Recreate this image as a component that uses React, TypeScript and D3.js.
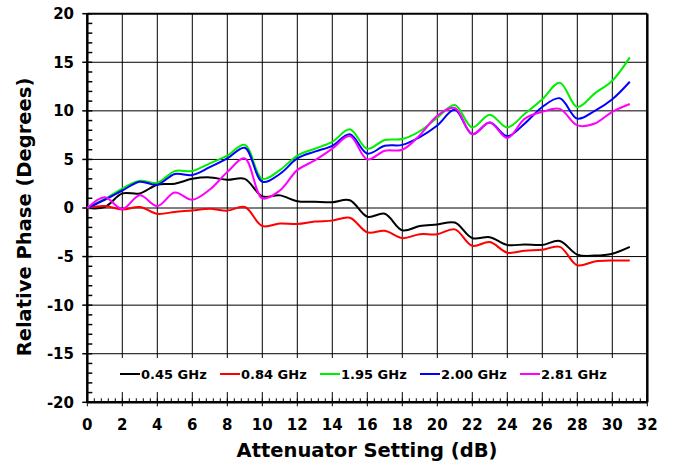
import React from "react";
import * as d3 from "d3";

const attenuation = d3.range(0, 32);
const phase045 = [0, 0.1, 1.5, 1.5, 2.4, 2.5, 3.0, 3.15, 2.9, 3.0, 1.2, 1.3, 0.7, 0.65, 0.6, 0.8, -0.9, -0.6, -2.3, -1.85, -1.7, -1.5, -3.1, -3.0, -3.8, -3.75, -3.8, -3.4, -4.8, -4.9, -4.7, -4.0];
const phase084 = [0, 0.2, -0.15, 0.1, -0.6, -0.4, -0.25, -0.07, -0.27, 0.1, -1.85, -1.6, -1.65, -1.4, -1.3, -1.0, -2.5, -2.35, -3.1, -2.7, -2.7, -2.2, -3.9, -3.5, -4.6, -4.4, -4.3, -4.0, -5.9, -5.5, -5.4, -5.4];
const phase195 = [0, 0.93, 2.0, 2.8, 2.6, 3.8, 3.8, 4.6, 5.4, 6.5, 3.0, 3.9, 5.4, 6.1, 6.8, 8.1, 6.1, 7.0, 7.1, 7.9, 9.3, 10.6, 8.3, 9.6, 8.3, 9.7, 11.2, 12.9, 10.4, 11.8, 13.1, 15.5];
const phase200 = [0, 0.85, 1.8, 2.7, 2.4, 3.5, 3.4, 4.2, 5.1, 6.2, 2.7, 3.5, 5.1, 5.8, 6.4, 7.6, 5.6, 6.4, 6.5, 7.3, 8.5, 10.1, 7.6, 8.8, 7.4, 8.7, 10.4, 11.3, 9.2, 10.0, 11.2, 13.0];
const phase281 = [0, 1.1, -0.1, 1.3, 0.2, 1.6, 0.85, 1.9, 3.7, 5.1, 1.0, 1.8, 3.9, 4.9, 6.1, 7.4, 5.0, 5.9, 6.0, 7.5, 9.5, 10.3, 7.6, 8.8, 7.2, 9.2, 9.9, 10.2, 8.5, 8.7, 9.9, 10.7];

const seriesNames = ["0.45 GHz", "0.84 GHz", "1.95 GHz", "2.00 GHz", "2.81 GHz"];
const seriesColors = ["#000000", "#ff0000", "#00ee00", "#0000ff", "#ff00ff"];
const seriesValues = [phase045, phase084, phase195, phase200, phase281];

const xTicks = d3.range(0, 33, 2);
const yTicks = d3.range(-20, 21, 5);
const xMinor = d3.range(0, 32.01, 0.4);
const yMinor = d3.range(-20, 20.01, 1);

export default function App() {
  const W = 676, H = 466;
  const x = d3.scaleLinear().domain([0, 32]).range([87.3, 647.3]);
  const y = d3.scaleLinear().domain([-20, 20]).range([402.3, 13.7]);
  const line = d3.line<number>()
    .x((_, i) => x(attenuation[i]))
    .y((d) => y(d))
    .curve(d3.curveCatmullRom.alpha(0.5));
  const font = "'DejaVu Sans', Verdana, sans-serif";
  const x0 = x(0), x1 = x(32), yT = y(20), yB = y(-20);
  const legendY = 374;
  const legendX0 = 120;
  const legendStep = 100;

  return (
    <svg width={W} height={H} style={{ position: "absolute", left: 0, top: 0, background: "#fff" }} fontFamily={font}>
      {/* gridlines */}
      {xTicks.slice(1, -1).map((t) => (
        <line key={"gx" + t} x1={x(t)} x2={x(t)} y1={yT} y2={yB} stroke="#000" strokeWidth={1} />
      ))}
      {yTicks.slice(1, -1).map((t) => (
        <line key={"gy" + t} x1={x0} x2={x1} y1={y(t)} y2={y(t)} stroke="#000" strokeWidth={1} />
      ))}
      {/* legend background */}
      <rect x={104} y={358} width={524} height={34} fill="#fff" />
      {/* minor ticks */}
      {xMinor.map((t, i) => (
        <line key={"mx" + i} x1={x(t)} x2={x(t)} y1={yB} y2={yB - 4} stroke="#000" strokeWidth={1} />
      ))}
      {yMinor.map((t, i) => (
        <line key={"my" + i} x1={x0} x2={x0 + 5} y1={y(t)} y2={y(t)} stroke="#000" strokeWidth={1.5} />
      ))}
      {/* major ticks */}
      {xTicks.map((t) => (
        <line key={"tx" + t} x1={x(t)} x2={x(t)} y1={yB} y2={yB + 4} stroke="#000" strokeWidth={1} />
      ))}
      {yTicks.map((t) => (
        <line key={"ty" + t} x1={x0 - 5} x2={x0} y1={y(t)} y2={y(t)} stroke="#000" strokeWidth={1.5} />
      ))}
      {/* frame */}
      <line x1={x0} x2={x1} y1={yT} y2={yT} stroke="#000" strokeWidth={2} />
      <line x1={x1} x2={x1} y1={yT} y2={yB} stroke="#000" strokeWidth={2.5} />
      <line x1={x0} x2={x1} y1={yB} y2={yB} stroke="#000" strokeWidth={2.5} />
      <line x1={x0} x2={x0} y1={yT} y2={yB} stroke="#000" strokeWidth={2.5} />
      {/* series */}
      {seriesValues.map((vals, i) => (
        <path key={"s" + i} d={line(vals) || ""} fill="none" stroke={seriesColors[i]} strokeWidth={2} />
      ))}
      {/* tick labels */}
      {xTicks.map((t) => (
        <text key={"lx" + t} x={x(t)} y={429.5} textAnchor="middle" fontSize={15} fontWeight="bold">{t}</text>
      ))}
      {yTicks.map((t) => (
        <text key={"ly" + t} x={74} y={y(t)} dy="0.36em" textAnchor="end" fontSize={15} fontWeight="bold">{t}</text>
      ))}
      {/* axis titles */}
      <text x={367} y={457} textAnchor="middle" fontSize={19.5} fontWeight="bold">Attenuator Setting (dB)</text>
      <text transform={`translate(31, 217) rotate(-90)`} textAnchor="middle" fontSize={19.5} fontWeight="bold">Relative Phase (Degrees)</text>
      {/* legend */}
      {seriesNames.map((name, i) => {
        const lx = legendX0 + i * legendStep;
        return (
          <g key={"lg" + i}>
            <line x1={lx} x2={lx + 20} y1={legendY} y2={legendY} stroke={seriesColors[i]} strokeWidth={2} />
            <text x={lx + 21} y={legendY} dy="0.36em" fontSize={13} fontWeight="bold">{name}</text>
          </g>
        );
      })}
    </svg>
  );
}
